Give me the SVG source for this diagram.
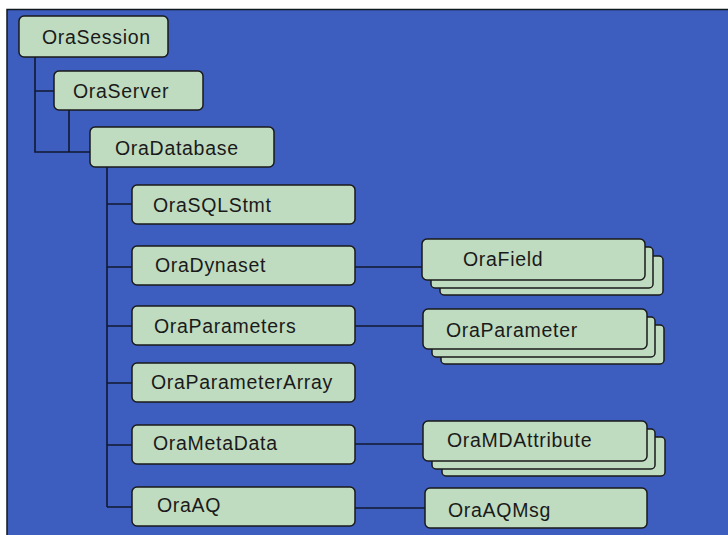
<svg xmlns="http://www.w3.org/2000/svg" width="728" height="535" viewBox="0 0 728 535">
<style>
.bx{fill:#c0dcc0;stroke:#1a1a1a;stroke-width:1.5}
.t{font-family:"Liberation Sans",Arial,sans-serif;font-size:19.5px;letter-spacing:0.7px;fill:#1a1a1a}
.ln{stroke:#101830;stroke-width:1.6;fill:none}
</style>
<rect x="0" y="0" width="728" height="535" fill="#ffffff"/>
<rect x="7" y="9.5" width="722" height="527" fill="#3d5dbf" stroke="#101820" stroke-width="1.5"/>
<g id="connectors">
<path class="ln" d="M35,57 V152 H90 M35,91 H54 M69,110 V152"/>
<path class="ln" d="M107,167 V507 M107,204 H132 M107,267 H132 M107,326 H132 M107,383 H132 M107,445 H132 M107,507 H132"/>
<path class="ln" d="M355,267 H422 M355,326 H423 M355,444 H423 M355,508 H425"/>
</g>
<g id="OraSession"><rect class="bx" x="19" y="16" width="149" height="41" rx="5"/><text class="t" x="42" y="44">OraSession</text></g>
<g id="OraServer"><rect class="bx" x="54" y="71" width="149" height="39" rx="5"/><text class="t" x="73" y="98">OraServer</text></g>
<g id="OraDatabase"><rect class="bx" x="90" y="127" width="184" height="40" rx="5"/><text class="t" x="115" y="155">OraDatabase</text></g>
<g id="OraSQLStmt"><rect class="bx" x="132" y="185" width="223" height="39" rx="5"/><text class="t" x="153" y="212">OraSQLStmt</text></g>
<g id="OraDynaset"><rect class="bx" x="132" y="246" width="223" height="39" rx="5"/><text class="t" x="155" y="272">OraDynaset</text></g>
<g id="OraParameters"><rect class="bx" x="132" y="306" width="223" height="39" rx="5"/><text class="t" x="154" y="333">OraParameters</text></g>
<g id="OraParameterArray"><rect class="bx" x="132" y="363" width="223" height="39" rx="5"/><text class="t" x="151" y="389">OraParameterArray</text></g>
<g id="OraMetaData"><rect class="bx" x="132" y="425" width="223" height="39" rx="5"/><text class="t" x="153" y="450">OraMetaData</text></g>
<g id="OraAQ"><rect class="bx" x="132" y="487" width="223" height="39" rx="5"/><text class="t" x="157" y="512">OraAQ</text></g>
<g id="OraField">
<rect class="bx" x="440" y="256" width="223" height="39" rx="4"/>
<rect class="bx" x="431" y="247" width="222" height="41" rx="4"/>
<rect class="bx" x="422" y="239" width="223" height="41" rx="5"/>
<text class="t" x="463" y="266">OraField</text></g>
<g id="OraParameter">
<rect class="bx" x="441" y="325" width="223" height="39" rx="4"/>
<rect class="bx" x="432" y="317" width="223" height="40" rx="4"/>
<rect class="bx" x="423" y="309" width="224" height="40" rx="5"/>
<text class="t" x="446" y="337">OraParameter</text></g>
<g id="OraMDAttribute">
<rect class="bx" x="442" y="437" width="223" height="39" rx="4"/>
<rect class="bx" x="432" y="429" width="223" height="40" rx="4"/>
<rect class="bx" x="423" y="421" width="224" height="40" rx="5"/>
<text class="t" x="447" y="447">OraMDAttribute</text></g>
<g id="OraAQMsg"><rect class="bx" x="425" y="488" width="222" height="40" rx="5"/><text class="t" x="448" y="517">OraAQMsg</text></g>
</svg>
